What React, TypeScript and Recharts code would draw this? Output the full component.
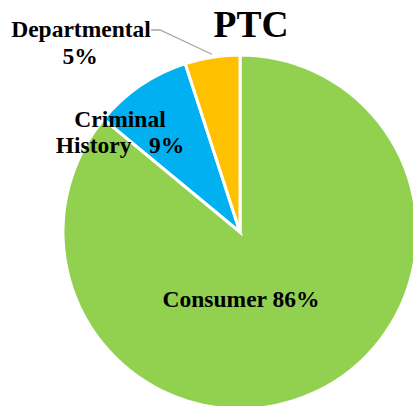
import { Pie, PieChart, Cell } from "recharts";

const categories = ["Consumer", "Criminal History", "Departmental"];
const shares = [86, 9, 5];
const colors = ["#92D050", "#00B0F0", "#FFC000"];

const data = categories.map((name, i) => ({ name, value: shares[i] }));

const RAD = Math.PI / 180;
const serif = "'Liberation Serif', 'Times New Roman', serif";
const labelFont = { fontFamily: serif, fontWeight: 700, fontSize: 23.5, fill: "#000" };

function renderLabel(props: any) {
  const { cx, cy, midAngle, outerRadius, name, value } = props;
  if (name === "Consumer") {
    return (
      <text x={cx + 1} y={cy + 75} textAnchor="middle" style={labelFont}>
        {`Consumer ${value}%`}
      </text>
    );
  }
  if (name === "Criminal History") {
    return (
      <text x={cx - 120} y={cy - 105} textAnchor="middle" style={labelFont}>
        <tspan x={cx - 120}>Criminal</tspan>
        <tspan x={cx - 120} dy={26} style={{ whiteSpace: "pre" }}>{`History   ${value}%`}</tspan>
      </text>
    );
  }
  // Departmental: outside with a leader line
  const ex = cx + (outerRadius + 3) * Math.cos(-midAngle * RAD);
  const ey = cy + (outerRadius + 3) * Math.sin(-midAngle * RAD);
  return (
    <g>
      <polyline
        points={`${ex},${ey} ${cx - 80},${cy - 202} ${cx - 89},${cy - 202}`}
        fill="none"
        stroke="#A6A6A6"
        strokeWidth={1.3}
      />
      <text x={cx - 159} y={cy - 195} textAnchor="middle" style={labelFont}>
        <tspan x={cx - 159}>Departmental</tspan>
        <tspan x={cx - 160} dy={27}>{`${value}%`}</tspan>
      </text>
    </g>
  );
}

export default function App() {
  return (
    <div style={{ position: "absolute", left: 0, top: 0, width: 413, height: 406, background: "#fff" }}>
      <PieChart width={413} height={406}>
        <text
          x={251}
          y={37}
          textAnchor="middle"
          style={{ fontFamily: serif, fontWeight: 700, fontSize: 37.5, fill: "#000" }}
        >
          PTC
        </text>
        <Pie
          data={data}
          dataKey="value"
          nameKey="name"
          cx={235}
          cy={227}
          outerRadius={177}
          startAngle={90}
          endAngle={-270}
          stroke="#fff"
          strokeWidth={3}
          label={renderLabel}
          labelLine={false}
          isAnimationActive={false}
        >
          {data.map((d, i) => (
            <Cell key={d.name} fill={colors[i]} />
          ))}
        </Pie>
      </PieChart>
    </div>
  );
}
